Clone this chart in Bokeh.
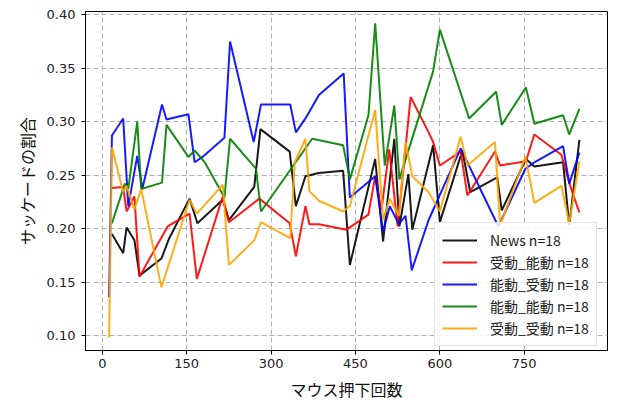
from bokeh.plotting import figure
from bokeh.models import Range1d, FixedTicker, PrintfTickFormatter, Legend, LegendItem
from bokeh.embed import file_html
from bokeh.resources import INLINE

# ---- data ----
x_news = [17, 37, 43, 57, 66, 105, 118, 155, 169, 214, 225, 270, 281, 333, 344, 361, 385, 428,
          440, 485, 499, 519, 528, 544, 551, 588, 600, 640, 654, 702, 710, 753, 768, 819, 830, 848]
y_news = [0.195, 0.177, 0.201, 0.189, 0.156, 0.172, 0.190, 0.228, 0.205, 0.227, 0.208, 0.239,
          0.293, 0.272, 0.221, 0.249, 0.252, 0.254, 0.166, 0.265, 0.188, 0.284, 0.202, 0.251,
          0.199, 0.278, 0.206, 0.273, 0.234, 0.248, 0.217, 0.265, 0.258, 0.262, 0.203, 0.283]

x_pa = [17, 37, 43, 57, 66, 116, 155, 168, 214, 225, 279, 333, 344, 361, 368, 385, 434, 473,
        485, 496, 510, 525, 548, 580, 588, 600, 637, 649, 698, 707, 753, 768, 816, 831, 848]
y_pa = [0.238, 0.239, 0.216, 0.230, 0.155, 0.202, 0.214, 0.153, 0.230, 0.206, 0.228, 0.205,
        0.174, 0.221, 0.204, 0.204, 0.199, 0.213, 0.249, 0.217, 0.274, 0.202, 0.323, 0.290,
        0.281, 0.259, 0.272, 0.231, 0.272, 0.259, 0.263, 0.288, 0.269, 0.241, 0.215]

x_ap = [12, 17, 37, 46, 62, 71, 106, 114, 153, 164, 178, 217, 227, 269, 282, 334, 344, 361,
        385, 429, 440, 485, 499, 511, 527, 539, 550, 580, 637, 704, 752, 768, 819, 830, 848]
y_ap = [0.136, 0.287, 0.303, 0.221, 0.268, 0.237, 0.316, 0.302, 0.307, 0.262, 0.267, 0.285,
        0.375, 0.281, 0.316, 0.316, 0.290, 0.303, 0.325, 0.345, 0.229, 0.249, 0.197, 0.221,
        0.204, 0.212, 0.161, 0.208, 0.275, 0.202, 0.256, 0.262, 0.277, 0.242, 0.271]

x_aa = [17, 40, 46, 62, 69, 106, 114, 153, 164, 182, 217, 227, 273, 282, 373, 428, 440, 473,
        485, 502, 519, 528, 588, 600, 652, 700, 710, 753, 768, 819, 830, 848]
y_aa = [0.205, 0.242, 0.237, 0.300, 0.237, 0.243, 0.297, 0.267, 0.273, 0.262, 0.229, 0.284,
        0.256, 0.216, 0.284, 0.278, 0.246, 0.306, 0.392, 0.259, 0.315, 0.246, 0.347, 0.386,
        0.303, 0.328, 0.297, 0.332, 0.298, 0.306, 0.288, 0.312]

x_pp = [12, 17, 37, 43, 57, 69, 105, 155, 168, 214, 225, 270, 282, 334, 342, 361, 368, 385,
        428, 440, 485, 499, 511, 527, 539, 551, 580, 600, 637, 649, 698, 707, 752, 768, 816, 830, 848]
y_pp = [0.098, 0.276, 0.234, 0.240, 0.218, 0.237, 0.145, 0.227, 0.214, 0.241, 0.166, 0.189,
        0.206, 0.191, 0.262, 0.284, 0.235, 0.226, 0.216, 0.221, 0.311, 0.208, 0.228, 0.212,
        0.281, 0.249, 0.234, 0.216, 0.286, 0.259, 0.281, 0.203, 0.267, 0.224, 0.240, 0.205, 0.263]

labels = ["News n=18", "受動_能動 n=18", "能動_受動 n=18", "能動_能動 n=18", "受動_受動 n=18"]
colors = ["#000000", "#ff0000", "#0000ff", "#008000", "#ffa500"]
xs = [x_news, x_pa, x_ap, x_aa, x_pp]
ys = [y_news, y_pa, y_ap, y_aa, y_pp]

x_ticks = [0, 150, 300, 450, 600, 750, 900]
y_ticks = [0.10, 0.15, 0.20, 0.25, 0.30, 0.35, 0.40]

JP = "Noto Sans CJK JP"

p = figure(width=628, height=403,
           x_range=Range1d(-30, 898), y_range=Range1d(0.086, 0.403),
           output_backend="svg", toolbar_location=None,
           min_border_left=85, min_border_right=21, min_border_top=11, min_border_bottom=52)

items = []
for x, y, c, lab in zip(xs, ys, colors, labels):
    r = p.line(x, y, line_color=c, line_width=2, line_alpha=0.9)
    items.append(LegendItem(label=lab, renderers=[r]))

legend = Legend(items=items, location=(349, 4),
                label_text_font=JP, label_text_font_size="14px", label_text_color="#222222",
                glyph_width=35, glyph_height=18, label_height=18, label_standoff=13,
                spacing=2, padding=7, margin=0,
                border_line_color="#cccccc", border_line_width=1,
                background_fill_color="white", background_fill_alpha=0.85)
p.add_layout(legend, "center")

for ax in (p.xaxis[0], p.yaxis[0]):
    ax.major_label_text_font = "DejaVu Sans"
    ax.major_label_text_font_size = "13px"
    ax.major_label_text_color = "#222222"
    ax.axis_label_text_font = JP
    ax.axis_label_text_font_size = "16px"
    ax.axis_label_text_font_style = "normal"
    ax.axis_label_text_color = "#111111"
    ax.axis_line_color = "black"
    ax.major_tick_line_color = "black"
    ax.major_tick_out = 4
    ax.major_tick_in = 0
    ax.minor_tick_line_color = None

p.xaxis[0].ticker = FixedTicker(ticks=x_ticks)
p.yaxis[0].ticker = FixedTicker(ticks=y_ticks)
p.yaxis[0].formatter = PrintfTickFormatter(format="%.2f")
p.xaxis[0].axis_label = "マウス押下回数"
p.yaxis[0].axis_label = "サッケードの割合"
p.xaxis[0].major_label_standoff = 4
p.xaxis[0].axis_label_standoff = 6
p.yaxis[0].major_label_standoff = 6
p.yaxis[0].axis_label_standoff = 5

p.grid.grid_line_color = "#b0b0b0"
p.grid.grid_line_dash = "5 3"
p.grid.grid_line_width = 1
p.outline_line_color = "black"
p.outline_line_alpha = 1
p.background_fill_color = "white"

open("out.html", "w").write(file_html(p, INLINE))
